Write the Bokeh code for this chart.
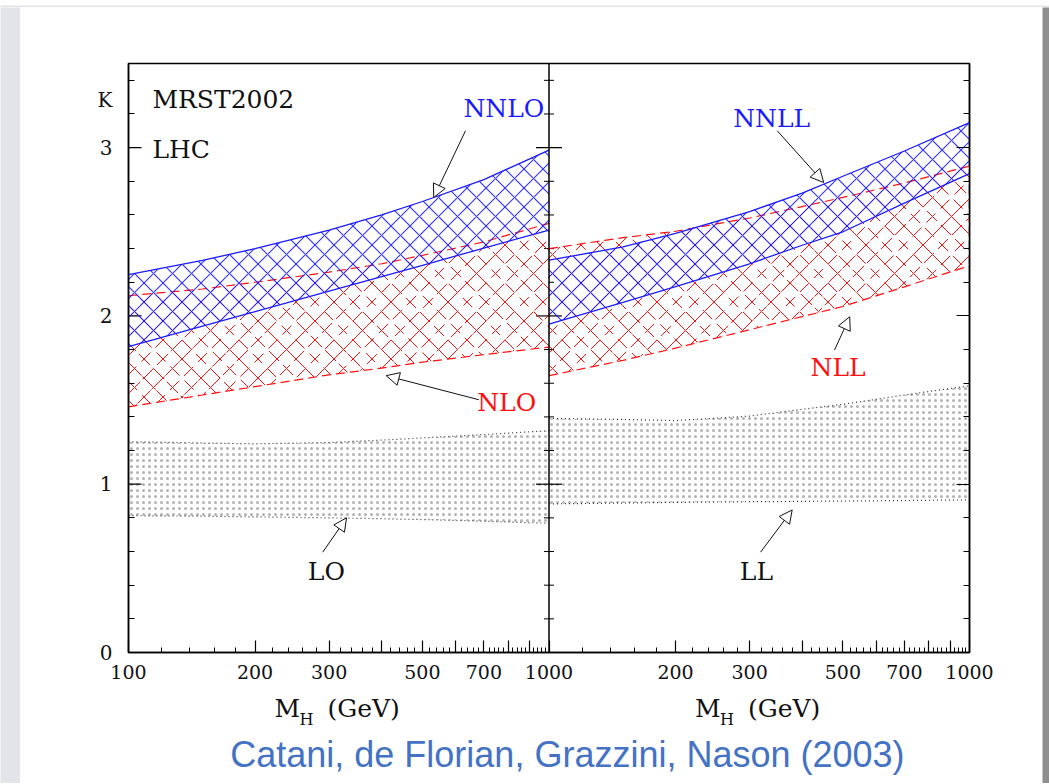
import numpy as np
from bokeh.plotting import figure
from bokeh.layouts import column, row
from bokeh.models import (Range1d, LogScale, LinearAxis, FixedTicker, Span,
                          Label, Arrow, NormalHead)
from bokeh.embed import file_html
from bokeh.resources import INLINE

# ---------------- data ----------------
mass = [100, 150, 200, 300, 400, 500, 700, 1000]

# left panel: fixed order
lo_hi = [1.253, 1.245, 1.240, 1.248, 1.262, 1.275, 1.295, 1.318]
lo_lo = [0.813, 0.810, 0.806, 0.800, 0.795, 0.790, 0.780, 0.768]
nlo_hi = [2.12, 2.16, 2.20, 2.26, 2.31, 2.36, 2.44, 2.55]
nlo_lo = [1.46, 1.53, 1.58, 1.65, 1.69, 1.725, 1.77, 1.815]
nnlo_hi = [2.245, 2.33, 2.40, 2.51, 2.60, 2.68, 2.81, 2.985]
nnlo_lo = [1.817, 1.939, 2.026, 2.148, 2.234, 2.301, 2.403, 2.51]

# right panel: resummed
ll_hi = [1.391, 1.385, 1.378, 1.405, 1.445, 1.475, 1.53, 1.585]
ll_lo = [0.883, 0.888, 0.892, 0.896, 0.898, 0.900, 0.903, 0.907]
nll_hi = [2.40, 2.465, 2.503, 2.582, 2.65, 2.704, 2.79, 2.89]
nll_lo = [1.645, 1.736, 1.809, 1.918, 1.996, 2.056, 2.173, 2.298]
nnll_hi = [2.331, 2.41, 2.49, 2.62, 2.73, 2.83, 2.98, 3.149]
nnll_lo = [1.952, 2.08, 2.174, 2.31, 2.42, 2.50, 2.67, 2.846]

x_major = [100, 200, 300, 400, 500, 600, 700, 800, 900, 1000]
x_minor = [m for m in range(120, 1000, 20) if m % 100]
x_labels = {100: "100", 200: "200", 300: "300", 500: "500", 700: "700", 1000: "1000"}
y_major = [0, 1, 2, 3]
y_minor = [round(0.2 * i, 1) for i in range(1, 18) if i % 5]
y_labels = {0: "0", 1: "1", 2: "2", 3: "3"}
y_title = "K"

x_title = ["M", "H", "(GeV)"]
citation = "Catani, de Florian, Grazzini, Nason (2003)"

# ---------------- geometry / styles ----------------
W, H = 1049, 783
SLIDE_L, SLIDE_T, SLIDE_R = 20, 7, 1042
FRAME_L, FRAME_R, FRAME_T, FRAME_B = 128, 969, 63, 652
SPLIT = 690
Y_MAX = 3.5
PPU = (FRAME_B - FRAME_T) / Y_MAX
K_POS = 3.286
BASE_FIX = 0.38          # label baseline correction (fraction of font size)

X_LO, X_HI = 100, 1000
shift = X_HI / X_LO
SERIF = "DejaVu Serif"
BLUE = "#1a1aff"
RED = "#ff1010"
INK = "#111111"
GRAY = "#e3e4e7"

def pad_fig(w, h, color):
    f = figure(width=w, height=h, output_backend="svg", toolbar_location=None,
               x_axis_location=None, y_axis_location=None, min_border=0,
               background_fill_color=color, border_fill_color=color,
               outline_line_color=None)
    f.grid.visible = False
    return f

# ---------------- main figure ----------------
p = figure(width=SLIDE_R - SLIDE_L, height=SPLIT - SLIDE_T, x_axis_type="log",
           x_range=Range1d(X_LO, X_HI * shift), y_range=Range1d(0, Y_MAX),
           output_backend="svg", toolbar_location=None,
           min_border_left=FRAME_L - SLIDE_L, min_border_right=SLIDE_R - FRAME_R,
           min_border_top=FRAME_T - SLIDE_T, min_border_bottom=SPLIT - FRAME_B)
p.extra_x_ranges = {"p2": Range1d(X_LO / shift, X_HI)}
p.extra_x_scales = {"p2": LogScale()}
p.xgrid.visible = False
p.ygrid.visible = False
p.border_fill_color = "white"
p.background_fill_color = "white"
p.outline_line_color = "black"
p.outline_line_width = 1.5

xt_major = sorted(set(x_major + [m * shift for m in x_major]))
xt_minor = sorted(set(x_minor + [m * shift for m in x_minor]))
overrides = {float(m * shift): x_labels.get(m, "") for m in x_major}
overrides.update({float(m): x_labels.get(m, "") for m in x_major})
xa = p.xaxis[0]
xa.ticker = FixedTicker(ticks=xt_major, minor_ticks=xt_minor)
xa.major_label_overrides = overrides
xa.major_tick_in = 12
xa.major_tick_out = 0
xa.minor_tick_in = 5
xa.minor_tick_out = 0
xa.axis_line_width = 1.5
xa.major_tick_line_width = 1.2
xa.minor_tick_line_width = 1.0
xa.major_label_standoff = 12
xa.major_label_text_font = SERIF
xa.major_label_text_font_size = "19px"
xa.major_label_text_color = INK

ya = p.yaxis[0]
ya.ticker = FixedTicker(ticks=y_major + [K_POS], minor_ticks=y_minor)
yo = {float(k): v for k, v in y_labels.items()}
yo[float(K_POS)] = y_title
ya.major_label_overrides = yo
ya.major_tick_line_color = None
ya.minor_tick_in = 6
ya.minor_tick_out = 0
ya.axis_line_width = 1.5
ya.major_label_standoff = 10
ya.major_label_text_font = SERIF
ya.major_label_text_font_size = "20px"
ya.major_label_text_color = INK
# inward major ticks of the left axis
p.scatter(x=[X_LO] * len(y_major), y=y_major, marker="dash", size=26,
          line_color="black", line_width=1.2)

ra = LinearAxis(ticker=FixedTicker(ticks=y_major, minor_ticks=y_minor),
                major_label_overrides={float(k): "" for k in y_major},
                major_tick_in=13, major_tick_out=0, minor_tick_in=6, minor_tick_out=0,
                axis_line_width=1.5, major_tick_line_width=1.2,
                major_label_text_font_size="1px")
p.add_layout(ra, "right")

# divider between the panels, ticks on both sides
p.add_layout(Span(location=X_HI, dimension="height", line_color="black", line_width=1.5))
p.scatter(x=[X_HI] * len(y_major), y=y_major, marker="dash", size=26,
          line_color="black", line_width=1.2)
p.scatter(x=[X_HI] * len(y_minor), y=y_minor, marker="dash", size=10,
          line_color="black", line_width=1.0)

# ---------------- bands ----------------
def band(lo, hi, kind, rng="default"):
    if kind == "lo":
        p.varea(x=mass, y1=lo, y2=hi, fill_alpha=0, hatch_pattern="dot",
                hatch_color="#000000", hatch_scale=6, hatch_alpha=0.3,
                x_range_name=rng)
        for yy in (lo, hi):
            p.line(mass, yy, line_color="#333333", line_dash="1 3",
                   line_width=1.2, x_range_name=rng)
    elif kind == "nlo":
        p.varea(x=mass, y1=lo, y2=hi, fill_alpha=0, hatch_pattern="diagonal_cross",
                hatch_color=RED, hatch_scale=19, hatch_weight=1.0,
                hatch_alpha=1.0, x_range_name=rng)
        # break the red hatch into dashes
        p.varea(x=mass, y1=lo, y2=hi, fill_alpha=0, hatch_pattern="dot",
                hatch_color="white", hatch_scale=14, hatch_alpha=1.0,
                x_range_name=rng)
        for yy in (lo, hi):
            p.line(mass, yy, line_color=RED, line_dash="9 5",
                   line_width=1.2, x_range_name=rng)
    else:
        p.varea(x=mass, y1=lo, y2=hi, fill_alpha=0, hatch_pattern="diagonal_cross",
                hatch_color=BLUE, hatch_scale=19, hatch_weight=1.1,
                hatch_alpha=0.9, x_range_name=rng)
        for yy in (lo, hi):
            p.line(mass, yy, line_color=BLUE, line_width=1.3, x_range_name=rng)

band(lo_lo, lo_hi, "lo")
band(nlo_lo, nlo_hi, "nlo")
band(nnlo_lo, nnlo_hi, "nnlo")
band(ll_lo, ll_hi, "lo", "p2")
band(nll_lo, nll_hi, "nlo", "p2")
band(nnll_lo, nnll_hi, "nnlo", "p2")

# ---------------- texts and arrows ----------------
def label(fig, x, y, text, color=INK, size=25, rng="default",
          align="left", font=SERIF):
    fig.add_layout(Label(x=x, y=y + BASE_FIX * size / PPU, text=text,
                         text_color=color, text_font=font,
                         text_font_size=f"{size}px", text_align=align,
                         text_baseline="alphabetic", x_range_name=rng))

def arrow(x0, y0, x1, y1, rng="default"):
    p.add_layout(Arrow(x_start=x0, y_start=y0, x_end=x1, y_end=y1,
                       line_color=INK, line_width=1.0,
                       end=NormalHead(size=13, fill_color="white",
                                      line_color=INK, line_width=1.0),
                       x_range_name=rng))

label(p, 114, 3.23, "MRST2002")
label(p, 114, 2.933, "LHC")
label(p, 626, 3.179, "NNLO", BLUE)
label(p, 675, 1.427, "NLO", RED)
label(p, 267, 0.4276, "LO")
label(p, 274.2, 3.119, "NNLL", BLUE, rng="p2")
label(p, 418.7, 1.635, "NLL", RED, rng="p2")
label(p, 284.3, 0.4276, "LL", rng="p2")

arrow(633, 3.10, 532, 2.704)
arrow(681, 1.502, 410, 1.645)
arrow(289.7, 0.596, 330, 0.80)
arrow(349, 3.10, 450, 2.793, "p2")
arrow(477.5, 1.797, 519, 1.995, "p2")
arrow(318.4, 0.596, 378.7, 0.847, "p2")

# ---------------- footer: axis titles and citation ----------------
foot = figure(width=SLIDE_R - SLIDE_L, height=H - SPLIT, x_axis_type="log",
              x_range=Range1d(X_LO, X_HI * shift),
              y_range=Range1d((FRAME_B - H) / PPU, (FRAME_B - SPLIT) / PPU),
              output_backend="svg", toolbar_location=None,
              x_axis_location=None, y_axis_location=None,
              min_border_left=FRAME_L - SLIDE_L, min_border_right=SLIDE_R - FRAME_R,
              min_border_top=0, min_border_bottom=0,
              background_fill_color="white", border_fill_color="white",
              outline_line_color=None)
foot.extra_x_ranges = {"p2": Range1d(X_LO / shift, X_HI)}
foot.extra_x_scales = {"p2": LogScale()}
foot.grid.visible = False

for rng in ("default", "p2"):
    label(foot, 222.5, -0.392, x_title[0], rng=rng)
    label(foot, 255.0, -0.4335, x_title[1], size=16, rng=rng)
    label(foot, 297.3, -0.392, x_title[2], rng=rng)

label(foot, 1106, -0.689, citation, color="#4472c4", size=36, align="center",
      font="Liberation Sans")

layout = column(pad_fig(W, SLIDE_T, GRAY),
                row(pad_fig(SLIDE_L, H - SLIDE_T, GRAY),
                    column(p, foot),
                    pad_fig(W - SLIDE_R, H - SLIDE_T, "#8e8e8e")))

open("out.html", "w").write(file_html(layout, INLINE))
